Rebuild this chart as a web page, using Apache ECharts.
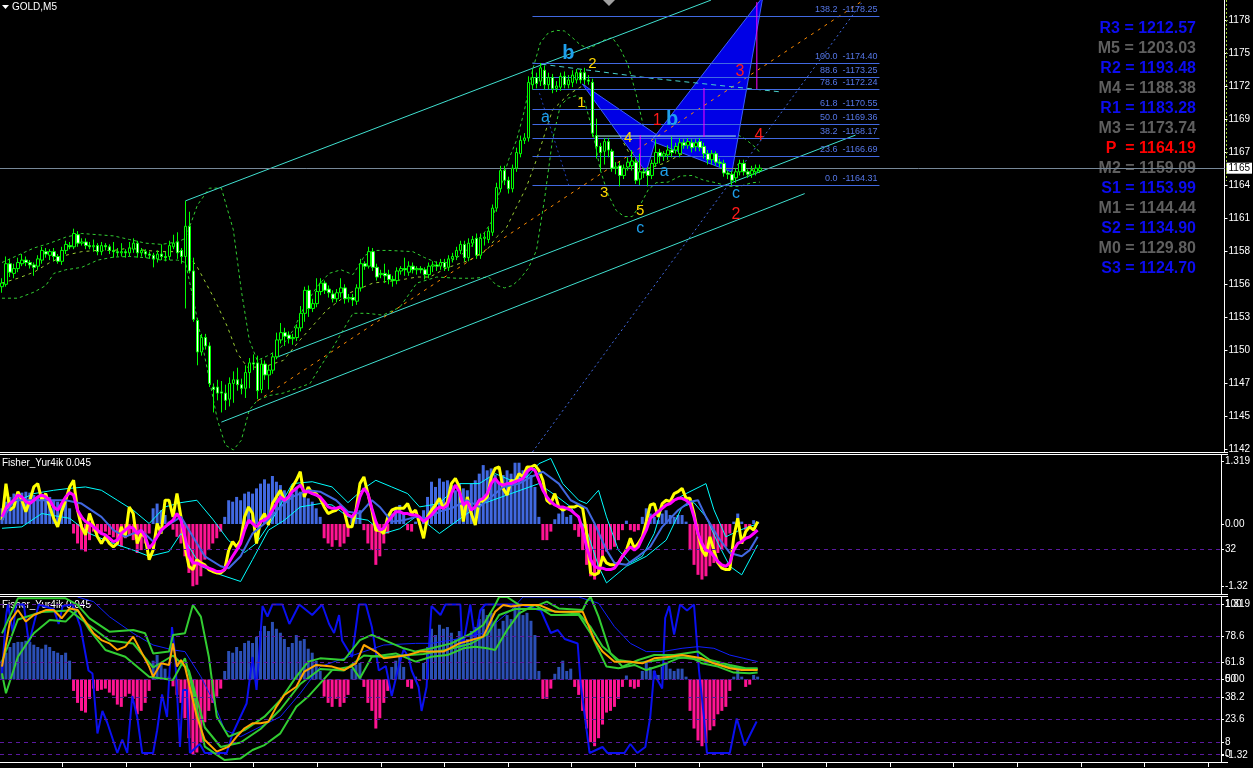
<!DOCTYPE html>
<html>
<head>
<meta charset="utf-8">
<title>GOLD,M5</title>
<script src="https://cdn.jsdelivr.net/npm/echarts@6/dist/echarts.min.js"></script>
<style>
  html, body { margin: 0; padding: 0; background: #000; }
  #chart { width: 1253px; height: 768px; }
</style>
</head>
<body>
<div id="chart"></div>
<script>
// ---------- price bars (GOLD, M5) ----------
const opens = [
1155.9,1156.1,1157.8,1157.0,1157.4,1157.8,1158.1,1157.9,1157.7,1157.6,
1158.1,1158.8,1158.5,1158.8,1158.4,1158.0,1158.9,1159.3,1159.2,1160.2,
1159.5,1159.6,1159.3,1159.2,1159.3,1158.8,1159.3,1159.2,1158.9,1158.8,
1158.7,1158.8,1158.7,1159.0,1159.5,1158.7,1158.8,1158.6,1158.5,1158.2,
1158.6,1158.4,1158.4,1159.2,1159.6,1158.9,1158.4,1160.9,1157.2,1153.1,
1150.5,1151.7,1151.0,1147.6,1147.6,1147.2,1147.1,1146.6,1147.9,1148.2,
1147.8,1147.5,1148.8,1149.6,1149.6,1147.4,1149.5,1148.6,1149.0,1150.1,
1151.5,1152.1,1151.9,1151.6,1151.7,1152.5,1153.7,1155.6,1154.1,1154.5,
1155.5,1156.2,1155.7,1155.3,1154.9,1155.4,1155.8,1154.9,1155.0,1154.7,
1155.8,1157.8,1157.6,1158.8,1157.5,1156.9,1157.0,1156.9,1156.5,1156.4,
1157.2,1157.4,1157.1,1157.6,1157.3,1157.4,1157.3,1156.9,1157.6,1157.7,
1157.6,1157.9,1157.5,1158.2,1158.4,1158.9,1159.4,1158.3,1159.5,1159.9,
1158.5,1159.9,1159.8,1160.4,1162.4,1164.0,1165.5,1164.7,1164.0,1165.7,
1166.9,1168.0,1168.2,1172.6,1173.2,1172.9,1173.8,1172.6,1173.2,1172.3,
1172.4,1173.3,1172.6,1172.8,1173.0,1173.6,1173.6,1173.0,1172.8,1168.4,
1167.5,1167.1,1167.9,1167.1,1165.7,1165.9,1165.1,1165.8,1165.9,1166.2,
1164.8,1165.4,1165.5,1165.1,1166.1,1167.0,1166.7,1166.8,1167.2,1167.2,
1166.9,1167.8,1167.6,1167.8,1167.5,1167.9,1167.5,1166.9,1166.4,1166.9,
1166.2,1166.1,1165.3,1165.2,1164.9,1165.4,1166.1,1165.4,1165.2,1165.4,
1165.5];
const closes = [
1156.2,1157.8,1157.1,1157.4,1157.9,1158.1,1157.9,1157.7,1157.5,1158.2,
1158.9,1158.6,1158.8,1158.4,1158.0,1158.9,1159.4,1159.2,1160.3,1159.5,
1159.6,1159.3,1159.2,1159.3,1158.8,1159.3,1159.2,1158.9,1158.8,1158.7,
1158.8,1158.7,1159.1,1159.5,1158.7,1158.9,1158.6,1158.5,1158.2,1158.6,
1158.4,1158.3,1159.3,1159.5,1158.7,1158.4,1160.9,1157.2,1153.2,1150.5,
1151.7,1151.0,1147.9,1147.4,1147.1,1147.1,1146.5,1147.9,1148.2,1147.8,
1147.5,1148.8,1149.6,1149.5,1147.3,1149.5,1148.6,1149.0,1150.1,1151.5,
1152.1,1151.8,1151.6,1151.7,1152.5,1153.7,1155.6,1154.1,1154.5,1155.5,
1156.2,1155.6,1155.4,1154.9,1155.4,1155.8,1154.9,1155.0,1154.8,1155.8,
1157.8,1157.6,1158.8,1157.5,1156.7,1157.0,1156.8,1156.5,1156.4,1157.2,
1157.4,1157.3,1157.6,1157.3,1157.4,1157.3,1156.9,1157.6,1157.7,1157.6,
1157.9,1157.5,1158.2,1158.4,1158.9,1159.4,1158.3,1159.5,1159.8,1158.5,
1159.9,1160.0,1160.5,1162.4,1164.1,1165.5,1164.7,1164.0,1165.7,1167.0,
1168.0,1168.2,1172.8,1173.2,1172.7,1174.0,1172.6,1173.2,1172.3,1172.5,
1173.3,1172.6,1173.0,1173.4,1173.6,1173.0,1173.0,1172.9,1168.6,1167.5,
1167.0,1167.9,1167.2,1165.7,1165.8,1165.1,1165.7,1166.2,1166.3,1164.7,
1165.4,1165.3,1165.1,1166.1,1167.0,1166.7,1166.9,1167.2,1167.0,1167.5,
1167.8,1167.6,1167.9,1167.4,1167.8,1167.4,1166.9,1166.4,1166.9,1166.2,
1166.1,1165.3,1165.2,1164.7,1165.4,1166.1,1165.4,1165.2,1165.5,1165.7,
1165.7];
const lows = [
1155.4,1155.9,1156.7,1156.6,1157.1,1157.6,1157.6,1157.4,1156.8,1157.3,
1157.8,1158.3,1158.1,1158.0,1157.8,1157.7,1158.6,1159.0,1159.0,1159.2,
1159.3,1159.0,1159.0,1158.8,1158.5,1158.5,1158.9,1158.6,1158.3,1158.4,
1158.4,1158.3,1158.4,1158.7,1158.3,1158.4,1158.3,1158.2,1157.5,1157.9,
1158.1,1158.0,1158.1,1159.0,1158.2,1157.8,1154.1,1157.0,1153.0,1149.4,
1150.2,1150.7,1147.6,1145.5,1146.5,1145.5,1145.7,1146.0,1146.3,1147.3,
1147.0,1146.7,1147.5,1149.0,1146.6,1147.1,1148.2,1147.4,1148.7,1149.9,
1151.2,1151.0,1151.2,1151.1,1151.4,1152.2,1153.0,1153.4,1153.8,1154.2,
1155.2,1155.3,1155.0,1154.6,1154.6,1155.0,1154.5,1154.6,1154.3,1154.4,
1155.5,1157.3,1157.4,1157.2,1156.4,1156.6,1156.2,1156.1,1155.9,1156.1,
1156.9,1156.8,1156.8,1157.0,1156.9,1157.0,1156.5,1156.6,1157.1,1157.2,
1157.3,1157.2,1157.2,1157.9,1158.1,1158.6,1158.0,1158.0,1159.2,1158.2,
1158.2,1159.3,1159.5,1160.1,1162.1,1163.7,1164.3,1163.6,1163.7,1165.4,
1166.6,1167.7,1167.9,1172.2,1172.3,1172.5,1172.2,1172.2,1171.9,1172.0,
1172.1,1172.3,1172.3,1172.4,1172.7,1172.7,1172.6,1172.6,1168.3,1166.5,
1165.5,1166.0,1166.6,1165.4,1165.2,1164.2,1164.8,1165.5,1165.5,1164.4,
1164.3,1164.9,1164.2,1164.8,1165.8,1166.1,1166.3,1166.4,1166.6,1166.9,
1166.6,1167.3,1167.3,1167.0,1167.1,1167.1,1166.5,1166.0,1166.0,1165.9,
1165.8,1165.0,1164.8,1164.3,1164.5,1165.1,1165.1,1164.9,1164.9,1165.1,
1165.3];
const highs = [
1156.6,1158.4,1158.2,1157.8,1158.3,1158.6,1158.4,1158.1,1157.9,1158.5,
1159.2,1159.1,1159.0,1159.1,1158.6,1159.2,1159.7,1159.6,1160.7,1160.5,
1159.9,1159.9,1159.6,1159.8,1159.5,1159.6,1159.5,1159.4,1159.6,1159.1,
1159.5,1159.0,1159.6,1159.9,1159.7,1159.1,1159.0,1158.8,1158.7,1158.9,
1159.4,1158.8,1159.7,1160.2,1160.4,1159.1,1163.0,1162.1,1158.3,1153.3,
1152.0,1152.0,1151.3,1147.9,1148.2,1148.1,1147.8,1148.4,1148.9,1149.2,
1148.3,1149.4,1150.0,1150.3,1150.2,1149.9,1149.8,1149.4,1150.4,1152.1,
1152.9,1152.5,1152.2,1152.0,1152.8,1154.3,1155.9,1156.0,1154.9,1156.6,
1156.6,1156.4,1156.0,1155.6,1155.7,1156.6,1156.1,1155.3,1155.3,1156.1,
1158.2,1158.0,1159.2,1159.1,1157.8,1157.3,1157.8,1157.3,1156.8,1157.5,
1157.6,1158.3,1158.0,1157.9,1157.6,1157.6,1157.5,1157.9,1158.0,1158.0,
1158.2,1158.2,1158.5,1158.7,1159.2,1159.7,1159.7,1159.9,1160.1,1160.3,
1160.3,1160.4,1160.8,1162.7,1164.5,1165.9,1165.9,1165.0,1166.0,1167.4,
1168.4,1168.6,1173.3,1173.9,1173.6,1174.4,1174.2,1173.6,1173.5,1172.9,
1173.6,1173.7,1173.4,1173.8,1173.9,1173.9,1174.0,1173.4,1173.1,1169.8,
1167.8,1168.2,1168.2,1167.3,1166.2,1166.2,1166.0,1166.6,1167.2,1166.5,
1166.9,1165.7,1165.8,1166.4,1168.1,1167.3,1167.1,1167.6,1168.3,1167.8,
1168.2,1168.1,1168.2,1168.1,1168.1,1168.2,1167.8,1167.2,1167.2,1167.1,
1166.5,1166.4,1165.5,1165.5,1165.7,1166.4,1166.4,1165.6,1165.9,1166.0,
1166.0];

// Bollinger-style envelope around price: [bar, price]
const bandUpper = [[0,1157.9],[4,1158.5],[8,1159.1],[12,1159.5],[16,1160.0],[20,1160.3],[24,1160.2],[28,1160.1],[32,1159.8],[36,1159.5],[40,1159.4],[44,1159.6],[46,1159.9],[49,1162.65],[52,1164.05],[55,1164.05],[58,1160.6],[60,1155.6],[62,1151.5],[64,1149.8],[67,1150.25],[70,1150.9],[73,1152.3],[76,1154.4],[79,1155.9],[82,1157.0],[85,1157.3],[88,1156.9],[91,1158.5],[94,1158.9],[97,1158.9],[100,1158.85],[103,1158.8],[106,1158.3],[109,1157.9],[112,1157.9],[115,1158.5],[118,1159.35],[121,1160.4],[123,1161.4],[125,1164.1],[127,1166.4],[129,1168.0],[131,1170.5],[133,1173.8],[135,1176.1],[137,1176.9],[139,1177.1],[141,1177.05],[143,1176.5],[145,1175.9],[147,1175.6],[149,1175.9],[151,1176.3],[153,1176.5],[155,1175.6],[157,1174.2],[159,1171.8],[161,1168.9],[163,1167.8],[165,1168.0],[168,1168.7],[171,1169.0],[174,1169.3],[177,1169.0],[180,1168.6],[183,1168.7],[186,1168.2],[189,1167.4],[190,1167.0]];
const bandLower = [[0,1154.95],[4,1154.95],[8,1155.45],[11,1156.0],[13,1157.0],[16,1157.3],[20,1157.5],[24,1158.1],[28,1158.35],[32,1158.4],[36,1158.3],[40,1158.1],[44,1158.1],[46,1157.9],[48,1154.8],[50,1151.5],[52,1148.2],[54,1144.9],[56,1142.8],[58,1142.4],[60,1143.2],[62,1145.7],[64,1146.5],[67,1146.9],[70.5,1147.1],[74,1147.5],[77.25,1147.9],[79.75,1149.25],[83,1150.9],[85.5,1152.3],[88,1153.7],[91.5,1153.7],[95.5,1153.55],[99.75,1154.2],[104,1156.2],[109,1156.7],[114,1156.6],[118,1156.6],[122,1156.7],[124,1156.0],[126,1155.8],[128,1156.0],[130,1156.6],[132,1157.45],[134,1158.9],[136,1163.1],[138,1168.0],[140,1170.9],[142,1171.5],[144,1171.7],[146,1171.3],[148,1168.9],[150,1165.55],[152,1163.5],[154,1162.2],[156,1161.7],[158,1161.7],[160,1162.65],[162,1163.9],[164,1164.5],[167,1164.55],[170,1165.05],[173,1165.1],[176,1164.7],[179,1164.5],[182,1164.2],[185,1164.2],[188,1164.5],[190,1164.55]];
const bandMiddle = [[0,1156.2],[4,1156.6],[8,1157.1],[12,1157.9],[16,1158.5],[20,1158.8],[24,1158.9],[28,1158.9],[32,1159.1],[36,1158.9],[40,1158.8],[44,1158.8],[46,1158.8],[49,1157.5],[53,1155.05],[56.5,1152.6],[59,1150.4],[61.5,1149.25],[65.5,1149.25],[70.5,1149.8],[74.75,1151.5],[81.5,1154.0],[87.25,1155.4],[93,1156.2],[99.75,1156.45],[104,1156.7],[107.25,1156.7],[111.5,1157.45],[117.25,1158.1],[121.5,1158.9],[124,1160.0],[126.5,1160.8],[129,1162.5],[131.5,1164.15],[134,1166.4],[138,1170.5],[142,1171.8],[146,1172.6],[150,1170.9],[154,1168.9],[158,1166.5],[162,1165.7],[166,1166.1],[170,1166.8],[174,1167.2],[178,1167.2],[182,1166.4],[186,1165.7],[190,1165.55]];

// trend channel, fans and pattern legs: [bar, price] end points
const channelLines = [
  [[46,1163.0],[177.75,1179.6]],
  [[69,1150.08],[214,1168.44]],
  [[55,1144.7],[201.25,1163.6]]
];
const orangeFan = [[64,1146.45],[216,1179.6]];
const blueFan = [[133,1142.23],[215.5,1179.36]];
const blueLeg = [[134.75,1171.9],[142.25,1164.14]];
const cyanTrend = [[133,1174.4],[162.25,1173.16],[195.5,1172.0]];
const shelfLine = [[149,1168.36],[184,1168.36]];
const magentaLegs = [
  [[160,1168.44],[160,1165.55]],
  [[176,1172.33],[176,1168.28]],
  [[189.25,1179.44],[189.25,1172.25]]
];
const patternX = [[145.5,161.5,164.25],[162.75,190.75,183]];
const patternY = [[1172.66,1165.38,1168.44],[1167.95,1179.86,1165.38]];

// Fibonacci retracement
const fibLevels = [138.2,100.0,88.6,78.6,61.8,50.0,38.2,23.6,0.0];
const fibPrices = [1178.25,1174.40,1173.25,1172.24,1170.55,1169.36,1168.17,1166.69,1164.31];
const fibFrom = 133, fibTo = 220;

// wave marks
const waveText = ['b','2','a','1','1','b','4','3','4','a','3','5','c','c','2'];
const waveKind = ['abc','wave','abc','wave','cycle','abc','wave','cycle','cycle','abc','wave','wave','abc','abc','cycle'];
const waveX = [142,148,136.25,145.25,164.25,168,157,185,189.75,166,151,160,160,184,184];
const waveY = [1175.2,1174.3,1169.9,1171.1,1169.6,1169.7,1168.2,1173.65,1168.4,1165.4,1163.65,1162.2,1160.7,1163.6,1161.9];

// daily pivot table
const pivotNames = ['R3','M5','R2','M4','R1','M3','P ','M2','S1','M1','S2','M0','S3'];
const pivotValues = [1212.57,1203.03,1193.48,1188.38,1183.28,1173.74,1164.19,1159.09,1153.99,1144.44,1134.90,1129.80,1124.70];

// price scale
const priceTicks = [1177.96,1175.23,1172.50,1169.77,1167.04,1164.31,1161.58,1158.85,1156.12,1153.39,1150.66,1147.93,1145.20,1142.47];
const priceTickLabels = ['1178','1175','1172','1169','1167','1164','1161','1158','1156','1153','1150','1147','1145','1142'];

// ---------- Fisher_Yur4ik 0.045 ----------
const fisherHist = [
0.33,0.47,0.57,0.64,0.66,0.66,0.68,0.66,0.61,0.57,
0.54,0.61,0.57,0.50,0.47,0.43,0.47,0.33,-0.20,-0.41,
-0.55,-0.58,-0.34,-0.16,-0.20,-0.18,-0.16,-0.23,-0.28,-0.44,
-0.48,-0.30,-0.25,-0.34,-0.61,-0.55,-0.41,-0.20,0.33,0.43,
0.29,0.19,0.05,-0.12,-0.27,-0.41,-0.68,-1.03,-1.31,-1.28,
-1.10,-0.75,-0.55,-0.41,-0.30,-0.16,0.15,0.50,0.47,0.57,
0.50,0.64,0.68,0.64,0.75,0.85,0.94,0.85,1.01,0.89,
0.82,0.71,0.57,0.64,0.78,0.68,0.71,0.54,0.47,0.33,
0.15,-0.30,-0.41,-0.48,-0.34,-0.48,-0.41,-0.27,0.19,0.26,
0.29,-0.13,-0.41,-0.55,-0.86,-0.68,-0.41,-0.20,0.22,0.33,
0.40,0.22,-0.13,-0.16,0.05,-0.02,0.29,0.57,0.89,0.78,
0.96,0.89,0.92,0.82,0.71,0.85,0.75,0.71,0.85,0.92,
1.06,1.24,1.13,1.17,1.03,0.89,1.03,1.13,1.06,1.29,
1.29,1.13,1.17,1.03,0.78,0.15,-0.34,-0.34,-0.16,0.10,
0.22,0.33,0.15,0.19,-0.13,-0.27,-0.55,-0.86,-1.10,-1.17,
-1.03,-0.79,-0.58,-0.55,-0.48,-0.34,-0.13,0.07,-0.13,-0.16,
-0.13,0.15,0.33,0.22,0.15,0.08,0.22,0.29,0.19,0.15,
0.19,0.19,0.05,-0.55,-0.86,-1.07,-1.17,-1.10,-0.89,-0.82,
-0.61,-0.55,-0.48,-0.20,0.05,0.22,0.05,-0.13,-0.09,0.08,
0.05];
const fisherFast = [
0.08,0.85,0.29,0.36,0.68,0.50,0.26,0.50,0.78,0.85,
0.50,0.64,0.36,0.12,-0.06,0.26,0.50,0.78,0.92,0.29,
-0.06,-0.23,0.22,-0.02,-0.27,-0.41,-0.27,-0.41,-0.48,-0.41,
-0.06,-0.27,0.36,0.22,-0.41,-0.20,-0.27,-0.75,-0.55,0.01,
-0.20,0.50,0.50,0.15,0.64,0.15,-0.48,-0.89,-0.96,-0.75,
-0.82,-0.86,-0.96,-1.00,-1.03,-1.03,-0.96,-0.55,-0.37,-0.48,
-0.34,0.15,0.36,0.22,-0.41,0.08,0.22,-0.02,0.43,0.57,
0.71,0.50,0.54,0.78,0.92,1.10,0.57,0.78,0.64,0.64,
0.54,0.36,0.22,0.26,0.29,0.36,0.29,-0.06,-0.06,0.29,
0.85,0.99,0.64,0.29,-0.13,-0.13,-0.20,0.15,0.29,0.33,
0.33,0.33,0.43,0.22,0.29,0.01,-0.30,0.15,0.29,0.40,
0.54,0.33,0.47,0.85,0.96,0.78,0.05,0.57,0.22,-0.02,
0.50,0.47,0.57,0.99,1.17,1.20,0.75,0.61,0.92,0.89,
1.06,0.99,1.20,1.20,1.24,1.13,0.92,0.50,0.43,0.64,
0.36,0.29,0.33,0.36,0.36,0.40,0.33,-0.20,-1.03,-1.07,
-1.03,-0.68,-0.82,-0.86,-0.86,-0.82,-0.68,-0.55,-0.30,-0.51,
-0.41,-0.27,0.05,0.40,0.43,0.15,0.43,0.50,0.47,0.64,
0.68,0.75,0.54,0.54,0.22,-0.20,-0.55,-0.68,-0.27,-0.55,
-0.82,-0.93,-0.96,-0.96,-0.27,0.12,-0.41,-0.16,-0.06,-0.13,
0.05];
const fisherSignal = [
0.15,0.33,0.43,0.50,0.61,0.57,0.47,0.43,0.50,0.57,
0.61,0.57,0.50,0.36,0.29,0.43,0.57,0.66,0.61,0.29,
0.15,0.05,0.01,-0.06,-0.13,-0.20,-0.23,-0.30,-0.37,-0.34,
-0.20,-0.13,-0.06,-0.09,-0.20,-0.13,-0.27,-0.51,-0.41,-0.27,
-0.13,-0.06,0.01,0.08,0.22,0.08,-0.27,-0.68,-0.82,-0.82,
-0.86,-0.89,-0.93,-0.96,-1.00,-1.00,-0.96,-0.82,-0.68,-0.55,
-0.41,-0.13,0.08,0.01,-0.06,0.05,0.08,0.15,0.29,0.43,
0.57,0.50,0.57,0.68,0.75,0.82,0.68,0.68,0.64,0.61,
0.57,0.47,0.36,0.33,0.33,0.36,0.29,0.19,0.15,0.26,
0.57,0.75,0.64,0.33,0.05,-0.13,-0.09,0.05,0.15,0.26,
0.26,0.22,0.22,0.19,0.19,0.15,0.05,0.12,0.19,0.29,
0.36,0.33,0.40,0.64,0.82,0.68,0.40,0.47,0.29,0.36,
0.50,0.54,0.64,0.85,0.96,0.85,0.82,0.85,0.85,0.89,
0.92,0.96,1.10,1.17,1.13,0.92,0.71,0.57,0.47,0.40,
0.36,0.36,0.33,0.29,0.22,0.15,-0.13,-0.48,-0.75,-0.89,
-0.93,-0.93,-0.96,-0.96,-0.93,-0.82,-0.68,-0.58,-0.48,-0.55,
-0.48,-0.30,-0.13,0.12,0.19,0.26,0.33,0.40,0.43,0.50,
0.54,0.54,0.50,0.43,0.15,-0.20,-0.41,-0.55,-0.58,-0.68,
-0.79,-0.86,-0.89,-0.82,-0.55,-0.41,-0.37,-0.30,-0.27,-0.20,
-0.13];
const fisherSlow = [[0,0.08],[3,0.5],[8,0.5],[12,0.5],[16,0.5],[20,0.43],[25,0.15],[28,-0.13],[31,-0.27],[35,-0.13],[38,-0.37],[41,-0.06],[45,0.15],[48,-0.27],[51,-0.68],[55,-0.89],[57,-0.93],[60,-0.68],[63,-0.2],[66,0.01],[70,0.36],[73,0.57],[77,0.71],[80,0.68],[84,0.5],[87,0.26],[90,0.22],[93,0.5],[95,0.36],[98,0.05],[101,0.08],[104,0.15],[107,0.12],[110,0.26],[113,0.33],[117,0.5],[120,0.36],[123,0.57],[126,0.78],[130,0.85],[133,0.99],[136,1.10],[140,0.85],[143,0.5],[147,0.33],[149,0.01],[152,-0.55],[154,-0.82],[157,-0.86],[160,-0.68],[163,-0.48],[166,-0.06],[170,0.29],[173,0.47],[175,0.5],[177,0.15],[180,-0.27],[183,-0.61],[186,-0.68],[188,-0.55],[190,-0.27]];
const fisherBandUp = [[0,0.22],[3,0.45],[8,0.64],[13,0.71],[17,0.75],[21,0.78],[25,0.71],[29,0.5],[33,0.29],[37,0.01],[41,0.36],[45,0.45],[49,0.5],[53,0.1],[57,-0.35],[61,-0.6],[64,-0.4],[68,0.1],[73,0.85],[78,0.89],[83,0.78],[87,0.45],[91,0.75],[94,0.92],[98,0.78],[102,0.64],[105,0.36],[110,0.43],[115,0.85],[120,0.85],[124,1.06],[128,0.92],[132,0.99],[135,1.27],[138,1.38],[141,0.85],[145,0.5],[147,0.43],[150,0.71],[152,0.15],[155,-0.55],[158,-0.82],[161,-0.68],[164,-0.2],[166,0.36],[172,0.64],[177,0.85],[179,0.3],[182,-0.27],[185,-0.15],[188,-0.05],[190,0.0]];
const fisherBandDn = [[0,-0.09],[5,-0.06],[10,0.22],[17,0.12],[22,-0.2],[28,-0.41],[33,-0.55],[37,-0.68],[42,-0.58],[45,-0.2],[50,-0.89],[55,-1.07],[60,-1.21],[63,-0.75],[67,-0.13],[71,0.08],[75,0.36],[80,0.43],[83,0.4],[87,0.15],[92,0.08],[96,-0.2],[100,-0.1],[104,0.15],[107,0.0],[110,-0.2],[115,0.1],[120,0.4],[125,0.55],[130,0.7],[135,0.85],[140,0.55],[143,0.36],[147,-0.13],[150,-0.89],[152,-1.24],[157,-0.89],[162,-0.68],[167,-0.34],[171,0.36],[174,0.45],[177,0.15],[180,-0.4],[183,-0.89],[186,-1.07],[190,-0.44]];
const fisherTicks = [1.319, 0, -0.53, -1.32];
const fisherTickLabels = ['1.319','0.00','32','-1.32'];
const fisherLevel = -0.53;

// ---------- oscillator pane (0..100) ----------
const oscRaw = [[0,54],[1,92],[1.5,100],[2.75,81],[3.5,100],[5.5,100],[6.75,74],[8,87],[9.25,100],[13,97],[14.25,87],[15.25,99],[17.75,100],[19.75,85],[21.75,56],[22.75,54],[24,14],[25.25,29],[26.5,21],[29,1],[30.25,10],[31.5,1],[32.75,39],[34,25],[35.25,1],[38,1],[39,16],[40.25,40],[41.5,25],[42.75,85],[43.5,67],[44.75,5],[45.5,43],[46.5,43],[47.25,1],[49.75,7],[51,1],[56.5,1],[58,14],[61.5,34],[63,65],[64,43],[64.75,70],[65.5,99],[66.75,92],[68,100],[70.5,100],[72.25,87],[74.75,100],[78,93],[80.5,100],[82.25,87],[83.5,81],[84.75,93],[85.5,76],[88,65],[89.75,100],[91.5,100],[93,85],[94.75,56],[96.5,59],[98,39],[99.75,59],[101,70],[102.25,65],[103,56],[104.75,45],[105.5,29],[106.75,45],[108,99],[110.25,93],[111.5,100],[115.25,100],[115.75,70],[117.75,100],[119,76],[120.25,96],[121.5,100],[130.5,100],[135.5,96],[138,81],[139.75,83],[141.5,77],[144.75,74],[145.5,47],[147.75,1],[151,5],[152.25,1],[156.5,1],[158,7],[159.75,1],[161.75,5],[163,25],[164,56],[164.75,50],[166,44],[166.75,91],[167.75,99],[169,80],[170.5,100],[172.25,96],[174,100],[175.25,56],[176.5,25],[177.25,1],[183,1],[184.75,24],[186.75,6],[189.75,22]];
const oscSmooth = [[0,58.6],[2,88.6],[4,96.3],[6,88.6],[8,93],[11,96.3],[13,96.3],[15,90.8],[17,97.4],[19,96.3],[21,88.6],[23,80.8],[25,76.3],[27,74.1],[29,69.7],[31,71.9],[33,78.6],[35,68.6],[37,58.6],[38,51.9],[40,60.8],[42,59.7],[43,74.1],[44,58.6],[45,63],[46,58.6],[47,47.4],[49,25.2],[51,9.7],[54,1.9],[57,5.2],[59,11.9],[61,17.5],[63,20.8],[65,20.8],[67,21.9],[69,31.9],[71,39.7],[74,45.2],[76,55.2],[79,59.7],[83,58.6],[86,56.3],[89,60.8],[91,73],[94,68.6],[96,64.1],[99,65.2],[102,66.3],[105,68.6],[108,68.6],[111,68.6],[115,74.1],[118,76.3],[121,78.6],[123,89.7],[124,95.2],[126,99.7],[128,98.6],[131,99.7],[135,99.7],[139,95.2],[146,95.2],[149,76.3],[151,68.6],[154,61.9],[158,61.9],[161,60.8],[164,64.1],[168,65.2],[171,66.3],[176,64.1],[179,60.8],[183,57.5],[186,56.3],[190,56.3]];
const oscMid = [[0,62],[4,90],[10,95],[17,96],[22,86],[27,76],[33,74],[38,58],[43,66],[47,56],[51,18],[55,5],[60,8],[65,17],[70,30],[75,47],[80,57],[86,56],[91,66],[96,65],[101,66],[106,67],[112,70],[118,74],[122,80],[125,93],[129,97],[135,97],[140,95],[145,94],[148,85],[151,72],[155,63],[160,61],[165,63],[170,65],[176,63],[182,59],[186,57],[190,57]];
const oscUpper = [[0,80.8],[4,104.1],[8,104.1],[16,104.1],[19,99.7],[22,90.8],[27,81.9],[33,83],[36,80.8],[38,67.4],[42,68.6],[43,79.7],[46,80.8],[48,99.7],[50,91.9],[52,65.2],[54,25.2],[57,11.9],[61,16.3],[66,25.2],[70,36.3],[74,51.9],[77,61.9],[80,64.1],[86,63],[90,76.3],[93,79.7],[97,75.2],[101,70.8],[104,68.6],[108,70.8],[113,74.1],[118,80.8],[121,86.3],[124,99.7],[125,105],[127,105],[130,99.7],[135,99.7],[137,101.9],[140,97.4],[146,96.3],[147,101.9],[148,105],[150,91.9],[153,67.4],[156,58.6],[160,63],[164,66.3],[169,66.3],[175,68.6],[178,63],[183,59.7],[187,57.5],[190,57.5]];
const oscLower = [[0,54.1],[1,40.8],[4,65.2],[8,80.8],[12,89.7],[16,88.6],[19,96.3],[22,83],[26,69.7],[31,65.2],[37,51.9],[43,49.7],[46,64.1],[48,43],[51,5.2],[56,-3.7],[60,-2.6],[63,3],[66,6.3],[70,14.1],[74,31.9],[77,38.6],[83,56.3],[88,58.6],[90,50.8],[93,65.2],[99,67.4],[104,61.9],[108,65.2],[112,66.3],[116,70.8],[119,71.9],[122,70.8],[124,69.7],[127,83],[130,94.1],[134,99.7],[138,93],[145,93],[148,80.8],[150,69.7],[152,58.6],[155,57.5],[159,59.7],[162,56.3],[166,59.7],[170,64.1],[173,65.2],[176,60.8],[180,58.6],[184,54.6],[188,54.1],[190,54.6]];
const oscTrend = [[19,105],[23,101.9],[27,91.9],[33,80.8],[38,73],[43,69.7],[46,68.6],[50,51.9],[53,36.3],[56,16.3],[60,11.9],[65,18.6],[70,25.2],[75,40.8],[80,58.6],[86,64.1],[91,68.6],[96,73],[104,74.1],[108,74.1],[113,76.3],[121,80.8],[128,96.3],[131,105],[145,105],[150,100.8],[154,85.2],[158,74.1],[162,68.6],[166,68.6],[171,70.8],[175,71.9],[179,70.8],[183,66.3],[190,61.9]];
const oscLevels = [100,78.6,61.8,50,38.2,23.6,8,0];
const oscLevelLabels = ['100','78.6','61.8','50','38.2','23.6','8','0'];
const fisherTicks3 = [1.319, 0, -1.32];
const fisherTickLabels3 = ['1.319','0.00','-1.32'];

// ---------- layout helpers ----------
const SLOTS = 307;
const barSlots = Array.from({ length: SLOTS }, (_, i) => String(i));
const timeTicks = Array.from({ length: 19 }, (_, k) => 15.25 + 16 * k);
const FONT = "'Liberation Sans', Arial, sans-serif";
const lastPrice = closes[closes.length - 1];

function tickFormatter(ticks, labels) {
  return function (v) {
    const k = ticks.findIndex(t => Math.abs(t - v) < 1e-6);
    return k >= 0 ? labels[k] : '';
  };
}
function yAxisRight(grid, min, max, ticks, labels, showLine) {
  return {
    type: 'value', gridIndex: grid, position: 'right', min: min, max: max,
    axisLine: { show: showLine, onZero: false, lineStyle: { color: '#ffffff', width: 1 } },
    axisTick: { show: true, length: 3, customValues: ticks, lineStyle: { color: '#ffffff' } },
    axisLabel: { show: true, customValues: ticks, formatter: tickFormatter(ticks, labels),
                 color: '#ffffff', fontSize: 10, fontFamily: FONT, margin: 4 },
    splitLine: { show: false }
  };
}
function overlay(points, color, width, type, z) {
  return { type: 'line', xAxisIndex: 1, yAxisIndex: 0, data: points, symbol: 'none',
           silent: true, lineStyle: { color: color, width: width, type: type }, z: z || 3 };
}
function paneLine(xi, yi, points, color, width, z) {
  return { type: 'line', xAxisIndex: xi, yAxisIndex: yi, data: points, symbol: 'none',
           silent: true, lineStyle: { color: color, width: width }, z: z };
}
const indexed = arr => arr.map((v, i) => [i, v]);

// ---------- series ----------
const series = [];

series.push({
  type: 'candlestick', xAxisIndex: 0, yAxisIndex: 0, barWidth: 3, z: 6,
  data: opens.map((o, i) => [o, closes[i], lows[i], highs[i]]),
  itemStyle: { color: '#000000', color0: '#ffffff', borderColor: '#00ff00', borderColor0: '#00ff00', borderWidth: 1 },
  markLine: {
    silent: true, symbol: ['none', 'none'], animation: false,
    data: [{ yAxis: lastPrice }],
    lineStyle: { color: '#778899', width: 1, type: 'solid' },
    label: { show: true, position: 'end', distance: 2, formatter: String(Math.floor(lastPrice)),
             backgroundColor: '#ffffff', color: '#000000', fontSize: 10, fontFamily: FONT, padding: [1, 2, 0, 2] }
  }
});

series.push(overlay(bandUpper, '#32cd32', 1, [3, 3], 3));
series.push(overlay(bandLower, '#32cd32', 1, [3, 3], 3));
series.push(overlay(bandMiddle, '#9acd32', 1, [3, 4], 3));
channelLines.forEach(l => series.push(overlay(l, '#40e0d0', 1, 'solid', 4)));
series.push(overlay(orangeFan, '#ff8c00', 1, [3, 5], 4));
series.push(overlay(blueFan, '#4169e1', 1, [2, 3], 4));
series.push(overlay(blueLeg, '#2040c0', 1, [2, 3], 4));
series.push(overlay(cyanTrend, '#48d1cc', 1, [5, 4], 4));

// harmonic pattern
series.push({
  type: 'custom', xAxisIndex: 1, yAxisIndex: 0, clip: true, silent: true, z: 4,
  data: patternX.map((xs, k) => [xs[0], patternY[k][0], xs[1], patternY[k][1], xs[2], patternY[k][2]]),
  encode: { x: [0, 2, 4], y: [1, 3, 5] },
  renderItem: function (params, api) {
    const pts = [0, 1, 2].map(j => api.coord([api.value(2 * j), api.value(2 * j + 1)]));
    return { type: 'polygon', shape: { points: pts },
             style: { fill: '#0000e6', stroke: '#3a5cff', lineWidth: 1 } };
  }
});

// Fibonacci grid hung on the shelf line
series.push({
  type: 'line', xAxisIndex: 1, yAxisIndex: 0, data: shelfLine, symbol: 'none', silent: true, z: 5,
  lineStyle: { color: '#b0f5e0', width: 1 },
  markLine: {
    silent: true, symbol: ['none', 'none'], animation: false,
    lineStyle: { color: '#4169e1', width: 1, type: 'solid' },
    label: { show: true, position: 'insideEndTop', formatter: '{b}', color: '#5577e8',
             fontSize: 9, fontFamily: FONT, distance: 2 },
    data: fibLevels.map((lv, k) => [
      { name: lv.toFixed(1) + '  -' + fibPrices[k].toFixed(2), coord: [fibFrom, fibPrices[k]] },
      { coord: [fibTo, fibPrices[k]] }
    ])
  }
});
magentaLegs.forEach(l => series.push(overlay(l, '#ff00ff', 1, 'solid', 5)));

// wave count marks
const waveStyle = {
  wave:  { fill: '#ffd700', size: 15, weight: 'normal' },
  cycle: { fill: '#ff1a1a', size: 16, weight: 'normal' },
  abc:   { fill: '#1ea0ec', size: 16, weight: 'normal' }
};
series.push({
  type: 'custom', xAxisIndex: 1, yAxisIndex: 0, silent: true, z: 8,
  data: waveX.map((x, k) => [x, waveY[k]]),
  renderItem: function (params, api) {
    const k = params.dataIndex;
    const p = api.coord([api.value(0), api.value(1)]);
    const st = waveStyle[waveKind[k]];
    const big = waveText[k] === 'b';
    return { type: 'text', x: p[0], y: p[1],
             style: { text: waveText[k], fill: st.fill, fontSize: big ? 20 : st.size,
                      fontWeight: big ? 'bold' : st.weight, fontFamily: FONT,
                      align: 'center', verticalAlign: 'middle' } };
  }
});

// Fisher pane
series.push({
  type: 'bar', xAxisIndex: 2, yAxisIndex: 1, barWidth: 3, silent: true, z: 2,
  data: indexed(fisherHist),
  itemStyle: { color: p => (p.value[1] >= 0 ? '#4169e1' : '#ff1493') },
  markLine: {
    silent: true, symbol: ['none', 'none'], animation: false, label: { show: false },
    lineStyle: { color: '#5a1a9e', width: 1, type: [4, 4] },
    data: [{ yAxis: fisherLevel }]
  }
});
series.push(paneLine(2, 1, fisherBandUp, '#00ffff', 1, 3));
series.push(paneLine(2, 1, fisherBandDn, '#00ffff', 1, 3));
series.push(paneLine(2, 1, indexed(fisherFast), '#ffff00', 3, 4));
series.push(paneLine(2, 1, fisherSlow, '#4169e1', 2, 5));
series.push(paneLine(2, 1, indexed(fisherSignal), '#ff00ff', 3, 6));

// oscillator pane
series.push({
  type: 'bar', xAxisIndex: 3, yAxisIndex: 3, barWidth: 3, silent: true, z: 2,
  data: indexed(fisherHist),
  itemStyle: { color: p => (p.value[1] >= 0 ? '#2b4fb5' : '#ff1493') }
});
series.push({
  type: 'line', xAxisIndex: 3, yAxisIndex: 2, data: oscRaw, symbol: 'none', silent: true, z: 3,
  lineStyle: { color: '#0a10f0', width: 2 },
  markLine: {
    silent: true, symbol: ['none', 'none'], animation: false, label: { show: false },
    lineStyle: { color: '#5a1a9e', width: 1, type: [4, 4] },
    data: oscLevels.map(v => ({ yAxis: v }))
  }
});
series.push(paneLine(3, 2, oscTrend, '#1020ff', 1, 3));
series.push(paneLine(3, 2, oscUpper, '#32cd32', 2, 4));
series.push(paneLine(3, 2, oscLower, '#32cd32', 2, 4));
series.push(paneLine(3, 2, oscMid, '#32cd32', 2, 4));
series.push(paneLine(3, 2, oscSmooth, '#ffa500', 2, 5));

// ---------- static furniture ----------
const pivotColor = n => (n[0] === 'P' ? '#ff0000' : (n[0] === 'M' ? '#5f5f5f' : '#0c0cf0'));
const graphics = [
  { type: 'polygon', z: 100, shape: { points: [[2, 5], [9, 5], [5.5, 9]] }, style: { fill: '#ffffff' } },
  { type: 'text', z: 100, x: 12, y: 7, style: { text: 'GOLD,M5', fill: '#ffffff', fontSize: 10, fontFamily: FONT, verticalAlign: 'middle' } },
  { type: 'text', z: 0, x: 2, y: 463, style: { text: 'Fisher_Yur4ik 0.045', fill: '#ffffff', fontSize: 10, fontFamily: FONT, verticalAlign: 'middle' } },
  { type: 'text', z: 0, x: 2, y: 605, style: { text: 'Fisher_Yur4ik 0.045', fill: '#ffffff', fontSize: 10, fontFamily: FONT, verticalAlign: 'middle' } },
  { type: 'polygon', z: 100, shape: { points: [[603, 0], [615, 0], [609, 6]] }, style: { fill: '#a0a0a0' } },
  { type: 'line', z: 100, shape: { x1: 1226.5, y1: 0, x2: 1226.5, y2: 181 }, style: { stroke: '#9acd32', lineWidth: 1, lineDash: [2, 2] } }
];
[452.5, 454.5, 594.5, 596.5, 762.5].forEach(y => graphics.push(
  { type: 'line', z: 100, shape: { x1: 0, y1: y, x2: 1228, y2: y }, style: { stroke: '#ffffff', lineWidth: 1 } }
));
pivotNames.forEach((n, k) => graphics.push({
  type: 'text', z: 0, x: 1196, y: 29 + 20 * k,
  style: { text: n + ' = ' + pivotValues[k].toFixed(2), fill: pivotColor(n), fontSize: 16,
           fontWeight: 'bold', fontFamily: FONT, align: 'right', verticalAlign: 'middle' }
}));

const option = {
  backgroundColor: '#000000',
  animation: false,
  grid: [
    { left: -1, top: 0, width: 1228, height: 452 },
    { left: -1, top: 455, width: 1228, height: 139 },
    { left: -1, top: 597, width: 1228, height: 165 }
  ],
  xAxis: [
    { type: 'category', gridIndex: 0, data: barSlots, boundaryGap: true, show: false },
    { type: 'value', gridIndex: 0, min: -0.5, max: SLOTS - 0.5, show: false },
    { type: 'value', gridIndex: 1, min: -0.5, max: SLOTS - 0.5, show: false },
    { type: 'value', gridIndex: 2, min: -0.5, max: SLOTS - 0.5, position: 'bottom',
      axisLine: { show: false, onZero: false },
      axisTick: { show: true, length: 5, customValues: timeTicks, lineStyle: { color: '#ffffff' } },
      axisLabel: { show: false }, splitLine: { show: false } }
  ],
  yAxis: [
    yAxisRight(0, 1142.23, 1179.61, priceTicks, priceTickLabels, true),
    yAxisRight(1, -1.4737, 1.4526, fisherTicks, fisherTickLabels, true),
    yAxisRight(2, -5, 105, oscLevels, oscLevelLabels, true),
    yAxisRight(2, -1.447, 1.447, fisherTicks3, fisherTickLabels3, false)
  ],
  graphic: graphics,
  series: series
};

const chart = echarts.init(document.getElementById('chart'));
chart.setOption(option);
</script>
</body>
</html>
